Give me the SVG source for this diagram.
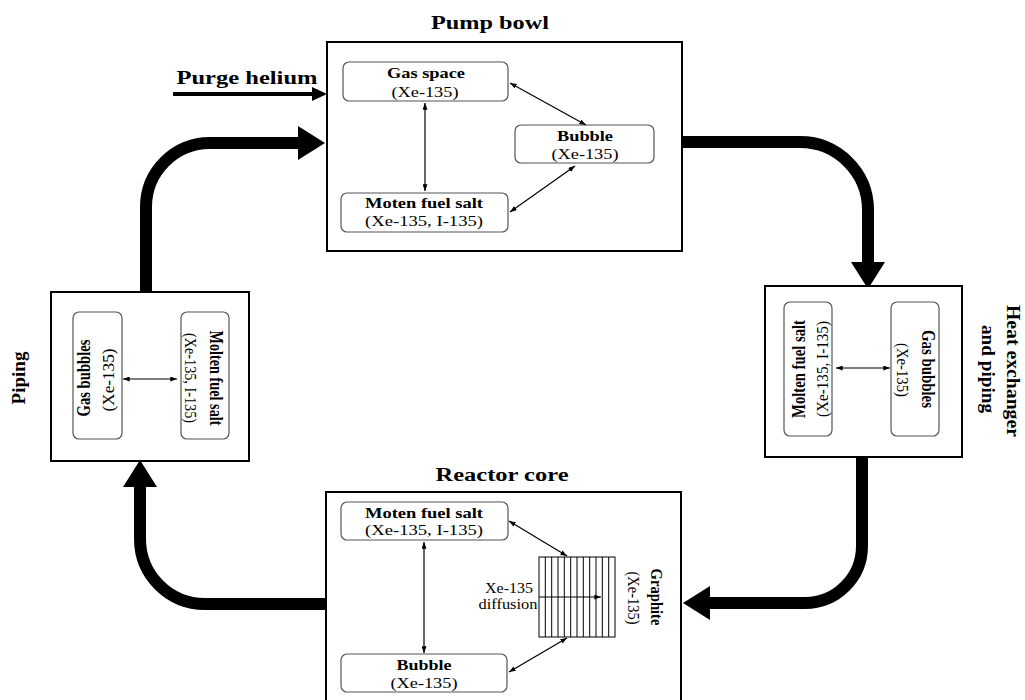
<svg xmlns="http://www.w3.org/2000/svg" width="1025" height="700" viewBox="0 0 1025 700">
<style>
text{font-family:"Liberation Serif","Times New Roman",serif;fill:#000}
.t{font-weight:bold;font-size:18px}
.b{font-weight:bold;font-size:15px}
.r{font-size:15px}
.s{font-size:14px}
.outer{fill:#fff;stroke:#000;stroke-width:2}
.inner{fill:#fff;stroke:#555;stroke-width:1.2}
.thin{stroke:#000;stroke-width:1.2;fill:none}
.thick{stroke:#000;stroke-width:12;fill:none}
</style>
<defs>
<marker id="sm" viewBox="0 0 8 6" markerWidth="7" markerHeight="5" refX="8" refY="3" orient="auto-start-reverse" markerUnits="userSpaceOnUse"><path d="M0,0 L8,3 L0,6 z" fill="#000"/></marker>
<marker id="big" viewBox="0 0 27 34" markerWidth="27" markerHeight="34" refX="0" refY="17" orient="auto" markerUnits="userSpaceOnUse"><path d="M0,0 L27,17 L0,34 z" fill="#000"/></marker>
<marker id="mid" viewBox="0 0 15 14" markerWidth="15" markerHeight="14" refX="0" refY="7" orient="auto" markerUnits="userSpaceOnUse"><path d="M0,0 L15,7 L0,14 z" fill="#000"/></marker>
</defs>
<rect width="1025" height="700" fill="#fff"/>

<g id="connectors">
<path class="thick" d="M146,292 V207 A64,64 0 0 1 210,143 H298" marker-end="url(#big)"/>
<path class="thick" d="M682,142 H800 A68,68 0 0 1 868,210 V262" marker-end="url(#big)"/>
<path class="thick" d="M862,457 V546 A57,57 0 0 1 805,603 H710" marker-end="url(#big)"/>
<path class="thick" d="M325,604 H205 A65,65 0 0 1 140,539 V487" marker-end="url(#big)"/>
<path d="M173,94 H312" stroke="#000" stroke-width="4" fill="none" marker-end="url(#mid)"/>
</g>

<g id="pump-bowl">
<rect class="outer" x="327" y="42" width="355" height="209"/>
<text class="t" x="490" y="29" text-anchor="middle" textLength="118" lengthAdjust="spacingAndGlyphs">Pump bowl</text>
<g id="pb-gas-space">
<rect class="inner" x="343" y="62" width="165" height="39" rx="6"/>
<text class="b" x="426" y="78" text-anchor="middle" textLength="78" lengthAdjust="spacingAndGlyphs">Gas space</text>
<text class="r" x="425" y="97" text-anchor="middle" textLength="67" lengthAdjust="spacingAndGlyphs">(Xe-135)</text>
</g>
<g id="pb-bubble">
<rect class="inner" x="515" y="125" width="139" height="38" rx="6"/>
<text class="b" x="585" y="141" text-anchor="middle" textLength="56" lengthAdjust="spacingAndGlyphs">Bubble</text>
<text class="r" x="585" y="159" text-anchor="middle" textLength="67" lengthAdjust="spacingAndGlyphs">(Xe-135)</text>
</g>
<g id="pb-salt">
<rect class="inner" x="341" y="193" width="167" height="39" rx="6"/>
<text class="b" x="424" y="208" text-anchor="middle" textLength="118" lengthAdjust="spacingAndGlyphs">Moten fuel salt</text>
<text class="r" x="424" y="226" text-anchor="middle" textLength="118" lengthAdjust="spacingAndGlyphs">(Xe-135, I-135)</text>
</g>
<line class="thin" x1="425" y1="103" x2="425" y2="191" marker-start="url(#sm)" marker-end="url(#sm)"/>
<line class="thin" x1="510" y1="83" x2="586" y2="125" marker-start="url(#sm)" marker-end="url(#sm)"/>
<line class="thin" x1="575" y1="166" x2="510" y2="212" marker-start="url(#sm)" marker-end="url(#sm)"/>
</g>

<g id="purge-helium">
<text class="t" x="247" y="84" text-anchor="middle" textLength="141" lengthAdjust="spacingAndGlyphs">Purge helium</text>
</g>

<g id="heat-exchanger">
<rect class="outer" x="765" y="286" width="197" height="171"/>
<g id="hx-salt">
<rect class="inner" x="784" y="302" width="48" height="134" rx="6"/>
<text class="b" transform="translate(805,369) rotate(-90) scale(1,1.25)" text-anchor="middle" textLength="98" lengthAdjust="spacingAndGlyphs">Molten fuel salt</text>
<text class="r" transform="translate(828,369) rotate(-90) scale(1,1.15)" text-anchor="middle" textLength="96" lengthAdjust="spacingAndGlyphs">(Xe-135, I-135)</text>
</g>
<g id="hx-gas">
<rect class="inner" x="891" y="302" width="48" height="134" rx="6"/>
<text class="b" transform="translate(922,369) rotate(90) scale(1,1.25)" text-anchor="middle" textLength="78" lengthAdjust="spacingAndGlyphs">Gas bubbles</text>
<text class="r" transform="translate(897,370) rotate(90) scale(1,1.15)" text-anchor="middle" textLength="54" lengthAdjust="spacingAndGlyphs">(Xe-135)</text>
</g>
<line class="thin" x1="836" y1="368" x2="890" y2="368" marker-start="url(#sm)" marker-end="url(#sm)"/>
<text class="t" transform="translate(1007,371) rotate(90)" text-anchor="middle" textLength="132" lengthAdjust="spacingAndGlyphs">Heat exchanger</text>
<text class="t" transform="translate(982,369) rotate(90)" text-anchor="middle" textLength="88" lengthAdjust="spacingAndGlyphs">and piping</text>
</g>

<g id="piping">
<rect class="outer" x="51" y="292" width="198" height="169"/>
<text class="t" transform="translate(25,378) rotate(-90)" text-anchor="middle" textLength="53" lengthAdjust="spacingAndGlyphs">Piping</text>
<g id="pp-gas">
<rect class="inner" x="73" y="312" width="49" height="127" rx="6"/>
<text class="b" transform="translate(90,378) rotate(-90) scale(1,1.25)" text-anchor="middle" textLength="77" lengthAdjust="spacingAndGlyphs">Gas bubbles</text>
<text class="r" transform="translate(114,380) rotate(-90) scale(1,1.15)" text-anchor="middle" textLength="63" lengthAdjust="spacingAndGlyphs">(Xe-135)</text>
</g>
<g id="pp-salt">
<rect class="inner" x="181" y="312" width="48" height="127" rx="6"/>
<text class="b" transform="translate(210,378) rotate(90) scale(1,1.25)" text-anchor="middle" textLength="95" lengthAdjust="spacingAndGlyphs">Molten fuel salt</text>
<text class="r" transform="translate(185,378) rotate(90) scale(1,1.15)" text-anchor="middle" textLength="90" lengthAdjust="spacingAndGlyphs">(Xe-135, I-135)</text>
</g>
<line class="thin" x1="123" y1="379" x2="177" y2="379" marker-start="url(#sm)" marker-end="url(#sm)"/>
</g>

<g id="reactor-core">
<rect class="outer" x="326" y="492" width="355" height="215"/>
<text class="t" x="502" y="481" text-anchor="middle" textLength="133" lengthAdjust="spacingAndGlyphs">Reactor core</text>
<g id="rc-salt">
<rect class="inner" x="341" y="502" width="167" height="38" rx="6"/>
<text class="b" x="424" y="518" text-anchor="middle" textLength="118" lengthAdjust="spacingAndGlyphs">Moten fuel salt</text>
<text class="r" x="424" y="535" text-anchor="middle" textLength="118" lengthAdjust="spacingAndGlyphs">(Xe-135, I-135)</text>
</g>
<g id="rc-bubble">
<rect class="inner" x="341" y="654" width="166" height="38" rx="6"/>
<text class="b" x="424" y="670" text-anchor="middle" textLength="55" lengthAdjust="spacingAndGlyphs">Bubble</text>
<text class="r" x="424" y="688" text-anchor="middle" textLength="67" lengthAdjust="spacingAndGlyphs">(Xe-135)</text>
</g>
<g id="rc-graphite">
<rect x="539" y="557" width="76" height="80" fill="#fff" stroke="#000" stroke-width="1"/>
<path stroke="#000" stroke-width="1" fill="none" d="M545.3,557V637M551.7,557V637M558,557V637M564.3,557V637M570.7,557V637M577,557V637M583.3,557V637M589.7,557V637M596,557V637M602.3,557V637M608.7,557V637"/>
<text class="b" transform="translate(651,597) rotate(90) scale(1,1.15)" text-anchor="middle" textLength="57" lengthAdjust="spacingAndGlyphs">Graphite</text>
<text class="r" transform="translate(628,598) rotate(90) scale(1,1.1)" text-anchor="middle" textLength="53" lengthAdjust="spacingAndGlyphs">(Xe-135)</text>
</g>
<text class="s" x="509" y="593" text-anchor="middle" textLength="48" lengthAdjust="spacingAndGlyphs">Xe-135</text>
<text class="s" x="508" y="609" text-anchor="middle" textLength="59" lengthAdjust="spacingAndGlyphs">diffusion</text>
<line class="thin" x1="539" y1="597" x2="601" y2="597" marker-end="url(#sm)"/>
<line class="thin" x1="424" y1="542" x2="424" y2="653" marker-start="url(#sm)" marker-end="url(#sm)"/>
<line class="thin" x1="509" y1="521" x2="567" y2="556" marker-start="url(#sm)" marker-end="url(#sm)"/>
<line class="thin" x1="509" y1="672" x2="567" y2="638" marker-start="url(#sm)" marker-end="url(#sm)"/>
</g>
</svg>
